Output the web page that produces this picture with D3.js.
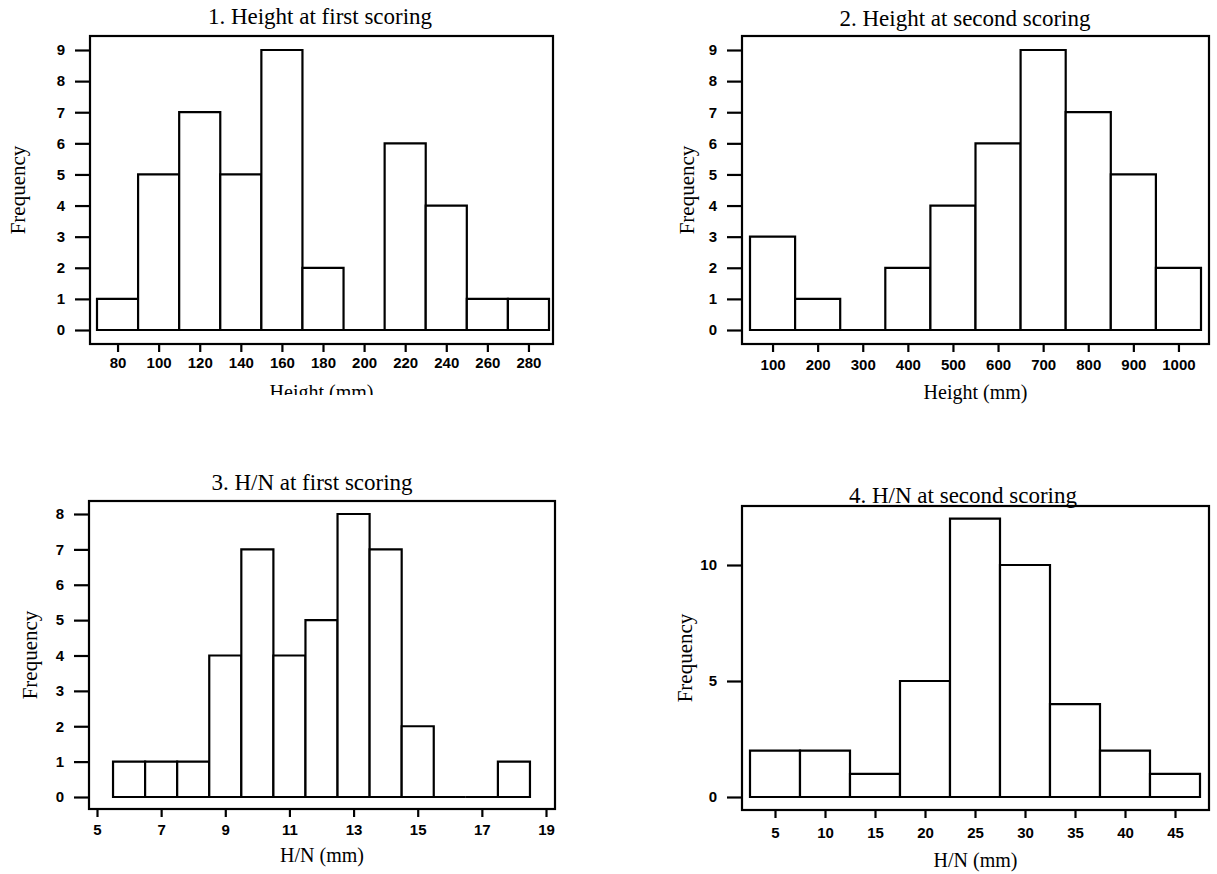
<!DOCTYPE html>
<html>
<head>
<meta charset="utf-8">
<script src="https://cdn.jsdelivr.net/npm/d3@7"></script>
<style>
  body { margin: 0; background: #fff; }
  .tick text { font-family: "Liberation Sans", Arial, sans-serif; font-weight: bold; font-size: 15px; fill: #000; }
  .tick line { stroke: #000; stroke-width: 2.2; }
  .serif { font-family: "Liberation Serif", "Times New Roman", serif; fill: #000; }
</style>
</head>
<body>
<svg width="1217" height="874"></svg>
<script>
// histogram data: bin edges + counts per panel
var heightFirstEdges = [70, 90, 110, 130, 150, 170, 190, 210, 230, 250, 270, 290];
var heightFirstCounts = [1, 5, 7, 5, 9, 2, 0, 6, 4, 1, 1];
var heightFirstXTicks = [80, 100, 120, 140, 160, 180, 200, 220, 240, 260, 280];
var heightFirstYTicks = [0, 1, 2, 3, 4, 5, 6, 7, 8, 9];

var heightSecondEdges = [50, 150, 250, 350, 450, 550, 650, 750, 850, 950, 1050];
var heightSecondCounts = [3, 1, 0, 2, 4, 6, 9, 7, 5, 2];
var heightSecondXTicks = [100, 200, 300, 400, 500, 600, 700, 800, 900, 1000];
var heightSecondYTicks = [0, 1, 2, 3, 4, 5, 6, 7, 8, 9];

var hnFirstEdges = [5.5, 6.5, 7.5, 8.5, 9.5, 10.5, 11.5, 12.5, 13.5, 14.5, 15.5, 16.5, 17.5, 18.5];
var hnFirstCounts = [1, 1, 1, 4, 7, 4, 5, 8, 7, 2, 0, 0, 1];
var hnFirstXTicks = [5, 7, 9, 11, 13, 15, 17, 19];
var hnFirstYTicks = [0, 1, 2, 3, 4, 5, 6, 7, 8];

var hnSecondEdges = [2.5, 7.5, 12.5, 17.5, 22.5, 27.5, 32.5, 37.5, 42.5, 47.5];
var hnSecondCounts = [2, 2, 1, 5, 12, 10, 4, 2, 1];
var hnSecondXTicks = [5, 10, 15, 20, 25, 30, 35, 40, 45];
var hnSecondYTicks = [0, 5, 10];

var svg = d3.select('svg');

function drawPanel(p) {
    var g = svg.append('g');

    var x = d3.scaleLinear().domain(p.xDomain).range(p.xRange);
    var y = d3.scaleLinear().domain(p.yDomain).range(p.yRange);

    var bins = p.counts.map(function(c, i) {
        return { x0: p.edges[i], x1: p.edges[i + 1], n: c };
    });

    // outer frame
    g.append('rect')
        .attr('x', p.frame[0])
        .attr('y', p.frame[1])
        .attr('width', p.frame[2] - p.frame[0])
        .attr('height', p.frame[3] - p.frame[1])
        .attr('fill', 'none')
        .attr('stroke', '#000')
        .attr('stroke-width', 2.2);

    // bars as closed paths so empty bins still show a line on the baseline
    g.selectAll('path.bar')
        .data(bins)
        .enter()
        .append('path')
        .attr('class', 'bar')
        .attr('d', function(d) {
            var a = x(d.x0), b = x(d.x1), y0 = y(0), yn = y(d.n);
            return 'M' + a + ',' + y0 + 'L' + a + ',' + yn + 'L' + b + ',' + yn + 'L' + b + ',' + y0 + 'Z';
        })
        .attr('fill', '#fff')
        .attr('stroke', '#000')
        .attr('stroke-width', 2.2);

    var yAxis = g.append('g')
        .attr('transform', 'translate(' + p.frame[0] + ',0)')
        .call(d3.axisLeft(y).tickValues(p.yTicks).tickSize(15).tickPadding(10).tickFormat(d3.format('d')));
    yAxis.select('.domain').remove();

    var xAxis = g.append('g')
        .attr('transform', 'translate(0,' + p.frame[3] + ')')
        .call(d3.axisBottom(x).tickValues(p.xTicks).tickSize(8).tickPadding(p.xPad).tickFormat(d3.format('d')));
    xAxis.select('.domain').remove();

    g.append('text')
        .attr('class', 'serif')
        .attr('x', p.titleX)
        .attr('y', p.titleY)
        .attr('text-anchor', 'middle')
        .style('font-size', '23px')
        .text(p.title);

    var xl = g.append('text')
        .attr('class', 'serif')
        .attr('x', (p.frame[0] + p.frame[2]) / 2)
        .attr('y', p.xLabelY)
        .attr('text-anchor', 'middle')
        .style('font-size', '20px')
        .text(p.xLabel);
    if (p.clipId) {
        svg.append('clipPath').attr('id', p.clipId)
            .append('rect').attr('x', 0).attr('y', 0).attr('width', 1217).attr('height', p.clipY);
        xl.attr('clip-path', 'url(#' + p.clipId + ')');
    }

    g.append('text')
        .attr('class', 'serif')
        .attr('transform', 'translate(' + p.yLabelX + ',' + ((p.frame[1] + p.frame[3]) / 2) + ') rotate(-90)')
        .attr('text-anchor', 'middle')
        .style('font-size', '21px')
        .text('Frequency');
}

drawPanel({
    title: '1. Height at first scoring', titleX: 320, titleY: 24,
    edges: heightFirstEdges, counts: heightFirstCounts,
    xTicks: heightFirstXTicks, yTicks: heightFirstYTicks,
    xDomain: [70, 290], xRange: [97, 549],
    yDomain: [0, 9], yRange: [330, 50],
    frame: [90, 36, 553, 344], xPad: 5,
    xLabel: 'Height (mm)', xLabelY: 399, clipId: 'cut1', clipY: 395,
    yLabelX: 25
});

drawPanel({
    title: '2. Height at second scoring', titleX: 965, titleY: 26,
    edges: heightSecondEdges, counts: heightSecondCounts,
    xTicks: heightSecondXTicks, yTicks: heightSecondYTicks,
    xDomain: [50, 1050], xRange: [750, 1201],
    yDomain: [0, 9], yRange: [330, 50],
    frame: [742, 36, 1209, 344], xPad: 7,
    xLabel: 'Height (mm)', xLabelY: 399,
    yLabelX: 694
});

drawPanel({
    title: '3. H/N at first scoring', titleX: 312, titleY: 490,
    edges: hnFirstEdges, counts: hnFirstCounts,
    xTicks: hnFirstXTicks, yTicks: hnFirstYTicks,
    xDomain: [5, 19], xRange: [97, 546],
    yDomain: [0, 8], yRange: [797, 514],
    frame: [89, 501, 555, 809], xPad: 7,
    xLabel: 'H/N (mm)', xLabelY: 862,
    yLabelX: 37
});

drawPanel({
    title: '4. H/N at second scoring', titleX: 963, titleY: 503,
    edges: hnSecondEdges, counts: hnSecondCounts,
    xTicks: hnSecondXTicks, yTicks: hnSecondYTicks,
    xDomain: [2.5, 47.5], xRange: [750, 1200],
    yDomain: [0, 10], yRange: [797, 565],
    frame: [742, 506, 1209, 810], xPad: 9,
    xLabel: 'H/N (mm)', xLabelY: 867,
    yLabelX: 692
});
</script>
</body>
</html>
